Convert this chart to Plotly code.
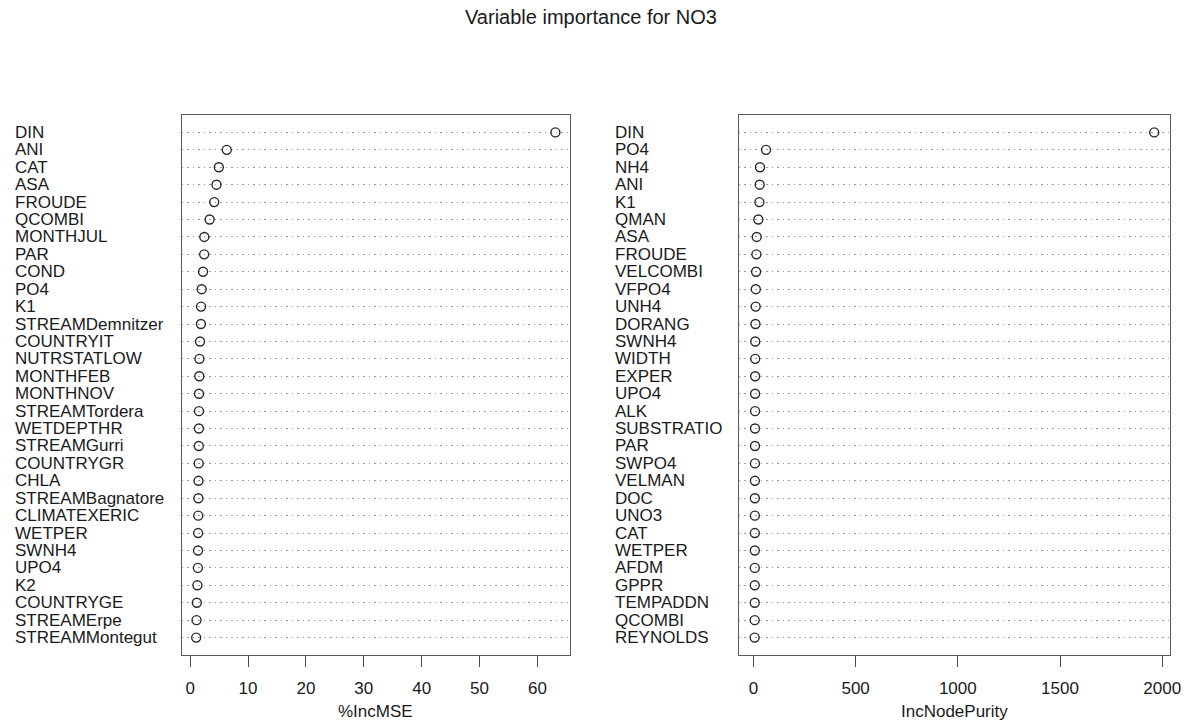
import plotly.graph_objects as go

# ---- data ----
left_labels = ["DIN", "ANI", "CAT", "ASA", "FROUDE", "QCOMBI", "MONTHJUL", "PAR", "COND", "PO4",
               "K1", "STREAMDemnitzer", "COUNTRYIT", "NUTRSTATLOW", "MONTHFEB", "MONTHNOV",
               "STREAMTordera", "WETDEPTHR", "STREAMGurri", "COUNTRYGR", "CHLA", "STREAMBagnatore",
               "CLIMATEXERIC", "WETPER", "SWNH4", "UPO4", "K2", "COUNTRYGE", "STREAMErpe",
               "STREAMMontegut"]
left_values = [63.1, 6.32, 4.95, 4.55, 4.15, 3.36, 2.44, 2.42, 2.22, 1.99,
               1.88, 1.86, 1.70, 1.60, 1.58, 1.53, 1.52, 1.51, 1.49, 1.47,
               1.44, 1.42, 1.40, 1.38, 1.36, 1.33, 1.25, 1.15, 1.10, 1.04]

right_labels = ["DIN", "PO4", "NH4", "ANI", "K1", "QMAN", "ASA", "FROUDE", "VELCOMBI", "VFPO4",
                "UNH4", "DORANG", "SWNH4", "WIDTH", "EXPER", "UPO4", "ALK", "SUBSTRATIO", "PAR",
                "SWPO4", "VELMAN", "DOC", "UNO3", "CAT", "WETPER", "AFDM", "GPPR", "TEMPADDN",
                "QCOMBI", "REYNOLDS"]
right_values = [1961, 61.5, 32, 30.5, 29, 24, 16, 14.5, 13, 11.5,
                11, 10, 9, 8.8, 8.5, 8.2, 8.0, 7.8, 7.6, 7.4,
                7.2, 7.0, 6.9, 6.8, 6.7, 6.6, 6.5, 6.4, 6.2, 6.0]

left_ticks = [0, 10, 20, 30, 40, 50, 60]
right_ticks = [0, 500, 1000, 1500, 2000]

title_text = "Variable importance for NO3"
left_xtitle = "%IncMSE"
right_xtitle = "IncNodePurity"

# ---- layout constants ----
W, H = 1203, 722
FONT = "Liberation Sans, Arial, sans-serif"
TXT = "#1a1a1a"
FS = 17

n = len(left_labels)
rows = [n - i for i in range(n)]  # top row at n, bottom at 1

fig = go.Figure()
fig.add_trace(go.Scatter(x=left_values, y=rows, mode="markers", xaxis="x", yaxis="y",
                         marker=dict(symbol="circle-open", size=9, color="#2a2a2a",
                                     line=dict(width=1.4, color="#2a2a2a")),
                         showlegend=False, hoverinfo="skip"))
fig.add_trace(go.Scatter(x=right_values, y=rows, mode="markers", xaxis="x2", yaxis="y2",
                         marker=dict(symbol="circle-open", size=9, color="#2a2a2a",
                                     line=dict(width=1.4, color="#2a2a2a")),
                         showlegend=False, hoverinfo="skip"))

def px_x(p):
    return p / W

def px_y(p):
    return 1 - p / H

# data-driven x ranges (R style 4% padding)
def rng(vals):
    lo, hi = min(vals), max(vals)
    pad = 0.04 * (hi - lo)
    return [lo - pad, hi + pad]

xaxis_common = dict(showgrid=False, zeroline=False, showline=True, mirror=True,
                    linecolor="#5a5a5a", linewidth=1.3, ticks="outside", ticklen=11,
                    tickwidth=1.2, tickcolor="#4a4a4a",
                    tickfont=dict(family=FONT, size=FS, color=TXT), ticklabelstandoff=6)
yaxis_common = dict(range=[0, n + 1], showgrid=True, griddash="1.5px,4px", gridcolor="#9a9a9a",
                    gridwidth=1, zeroline=False, showline=True, mirror=True,
                    linecolor="#5a5a5a", linewidth=1.3, ticks="", showticklabels=False,
                    tickvals=rows)

fig.update_layout(
    width=W, height=H,
    margin=dict(l=0, r=0, t=0, b=0),
    paper_bgcolor="white", plot_bgcolor="white",
    xaxis=dict(domain=[px_x(183.5), px_x(575)], range=rng(left_values),
               tickvals=left_ticks, anchor="y", **xaxis_common),
    yaxis=dict(domain=[px_y(655), px_y(115)], anchor="x", **yaxis_common),
    xaxis2=dict(domain=[px_x(745.5), px_x(1181)], range=rng(right_values),
                tickvals=right_ticks, anchor="y2", **xaxis_common),
    yaxis2=dict(domain=[px_y(655), px_y(115)], anchor="x2", **yaxis_common),
)

annotations = []
for lab, r in zip(left_labels, rows):
    annotations.append(dict(text=lab, x=px_x(13), xref="paper", xanchor="left",
                            y=r, yref="y", yanchor="middle", showarrow=False,
                            font=dict(family=FONT, size=FS, color=TXT)))
for lab, r in zip(right_labels, rows):
    annotations.append(dict(text=lab, x=px_x(619), xref="paper", xanchor="left",
                            y=r, yref="y2", yanchor="middle", showarrow=False,
                            font=dict(family=FONT, size=FS, color=TXT)))
annotations.append(dict(text=title_text, x=px_x(596), y=px_y(17), xref="paper", yref="paper",
                        xanchor="center", yanchor="middle", showarrow=False,
                        font=dict(family=FONT, size=20, color=TXT)))
annotations.append(dict(text=left_xtitle, x=0.5, xref="x domain", y=px_y(711), yref="paper",
                        xanchor="center", yanchor="middle", showarrow=False,
                        font=dict(family=FONT, size=FS, color=TXT)))
annotations.append(dict(text=right_xtitle, x=0.5, xref="x2 domain", y=px_y(711), yref="paper",
                        xanchor="center", yanchor="middle", showarrow=False,
                        font=dict(family=FONT, size=FS, color=TXT)))
fig.update_layout(annotations=annotations)

fig.write_html("out.html")
